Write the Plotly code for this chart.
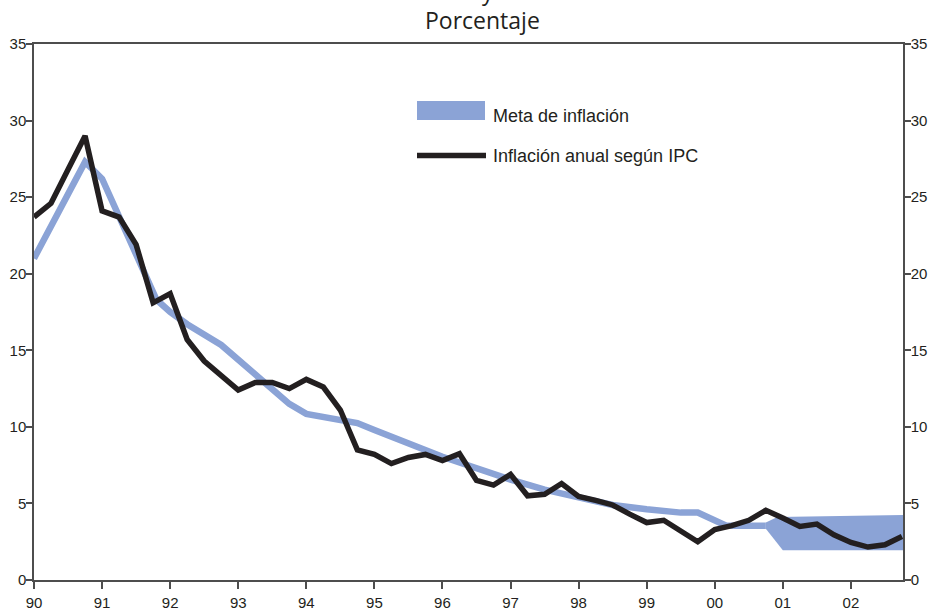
import plotly.graph_objects as go

# ---------------- data ----------------
# Inflación anual según IPC (quarterly, decimal years)
ipc_x = [1990 + 0.25 * i for i in range(52)]
ipc_y = [23.7, 24.6, 26.8, 29.0,
         24.1, 23.7, 21.9, 18.1,
         18.7, 15.7, 14.3, 13.4,
         12.4, 12.9, 12.9, 12.5,
         13.1, 12.6, 11.1, 8.5,
         8.2, 7.6, 8.0, 8.2,
         7.8, 8.25, 6.5, 6.2,
         6.9, 5.5, 5.6, 6.3,
         5.45, 5.2, 4.9, 4.3,
         3.75, 3.9, 3.2, 2.5,
         3.3, 3.55, 3.9, 4.55,
         4.05, 3.5, 3.65, 2.95,
         2.45, 2.15, 2.3, 2.85]

# Meta de inflación (punctual target path)
meta_x = [1990.0, 1990.75, 1991.0, 1991.8, 1992.0, 1992.25, 1992.75, 1993.75,
          1994.0, 1994.75, 1995.0, 1996.0, 1997.0, 1997.5, 1998.0, 1998.5,
          1999.0, 1999.5, 1999.75, 2000.17, 2000.75]
meta_y = [21.0, 27.3, 26.2, 18.3, 17.5, 16.7, 15.35, 11.5,
          10.85, 10.25, 9.8, 8.05, 6.55, 5.9, 5.4, 4.9,
          4.62, 4.4, 4.4, 3.55, 3.55]

# Meta de inflación (target range)
band_hi_x = [2000.75, 2000.92, 2002.765]
band_hi_y = [3.76, 4.12, 4.25]
band_lo_x = [2000.75, 2001.0, 2002.765]
band_lo_y = [3.34, 1.95, 1.95]

year_ticks = list(range(1990, 2003))
year_labels = ["90", "91", "92", "93", "94", "95", "96", "97", "98", "99", "00", "01", "02"]

# ---------------- styles ----------------
BLUE = "#8ba3d6"
BLACK = "#231f20"
AXIS = "#4d4d4d"
TICKFONT = dict(family="Liberation Sans, Arial, sans-serif", size=15, color=BLACK)

fig = go.Figure()

fig.add_trace(go.Scatter(
    x=meta_x, y=meta_y, mode="lines",
    line=dict(color=BLUE, width=6.5),
    showlegend=False, hoverinfo="skip"))

fig.add_trace(go.Scatter(
    x=band_hi_x + band_lo_x[::-1], y=band_hi_y + band_lo_y[::-1],
    mode="lines", fill="toself", fillcolor=BLUE,
    line=dict(color=BLUE, width=0),
    showlegend=False, hoverinfo="skip"))

fig.add_trace(go.Scatter(
    x=ipc_x, y=ipc_y, mode="lines", yaxis="y2",
    line=dict(color=BLACK, width=5.5),
    showlegend=False, hoverinfo="skip"))

xr = [1990, 2002.765]
yr = [0, 35]

fig.update_layout(
    width=928, height=612,
    margin=dict(l=34, r=25, t=44, b=32),
    plot_bgcolor="white", paper_bgcolor="white",
    showlegend=False,
    xaxis=dict(range=xr, tickvals=year_ticks, ticktext=year_labels,
               showgrid=False, zeroline=False, automargin=False,
               showline=True, linecolor=AXIS, linewidth=1.5, mirror=True,
               ticks="outside", ticklen=7, tickwidth=1.5, tickcolor=AXIS,
               tickfont=TICKFONT, ticklabelstandoff=1),
    yaxis=dict(range=yr, dtick=5, showgrid=False, zeroline=False, automargin=False,
               showline=True, linecolor=AXIS, linewidth=1.5,
               ticks="outside", ticklen=6, tickwidth=1.5, tickcolor=AXIS,
               tickfont=TICKFONT, ticklabelstandoff=-3),
    yaxis2=dict(range=yr, dtick=5, overlaying="y", side="right",
                showgrid=False, zeroline=False, automargin=False,
                showline=True, linecolor=AXIS, linewidth=1.5,
                ticks="outside", ticklen=6, tickwidth=1.5, tickcolor=AXIS,
                tickfont=TICKFONT, ticklabelstandoff=-3),
)

# ---- manual legend ----
def px_x(p):
    return (p - 34) / 869.0

def px_y(p):
    return (580 - p) / 536.0

fig.add_shape(type="rect", xref="paper", yref="paper",
              x0=px_x(417), x1=px_x(485), y0=px_y(120), y1=px_y(101),
              fillcolor=BLUE, line=dict(width=0))
fig.add_shape(type="line", xref="paper", yref="paper",
              x0=px_x(417), x1=px_x(486), y0=px_y(155.5), y1=px_y(155.5),
              line=dict(color=BLACK, width=5.5))

LEGFONT = dict(family="Liberation Sans, Arial, sans-serif", size=18, color=BLACK)
fig.add_annotation(text="Meta de inflación", xref="paper", yref="paper",
                   x=px_x(491), y=px_y(116), xanchor="left", yanchor="middle",
                   showarrow=False, font=LEGFONT)
fig.add_annotation(text="Inflación anual según IPC", xref="paper", yref="paper",
                   x=px_x(491), y=px_y(156), xanchor="left", yanchor="middle",
                   showarrow=False, font=LEGFONT)

# ---- titles ----
TITLEFONT = dict(family="Open Sans, sans-serif", size=23, color=BLACK)
fig.add_annotation(text="Porcentaje", xref="paper", yref="paper",
                   x=px_x(482.5), y=px_y(20), xanchor="center", yanchor="middle",
                   showarrow=False, font=TITLEFONT)
fig.add_annotation(text="y", xref="paper", yref="paper",
                   x=px_x(488), y=px_y(-9), xanchor="center", yanchor="middle",
                   showarrow=False, font=TITLEFONT)

fig.write_html("out.html", config={"displayModeBar": False},
               post_script="document.body.style.margin='0px';")
